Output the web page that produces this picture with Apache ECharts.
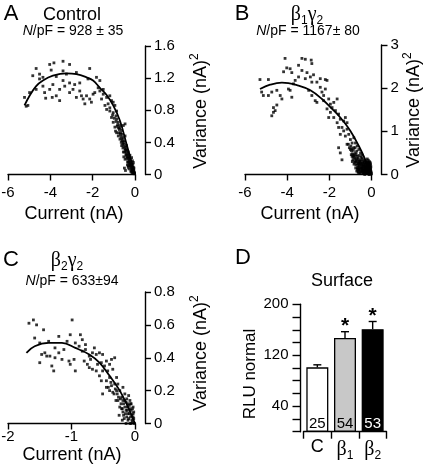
<!DOCTYPE html>
<html><head><meta charset="utf-8">
<script src="https://cdn.jsdelivr.net/npm/echarts@6/dist/echarts.min.js"></script>
<style>html,body{margin:0;padding:0;background:#fff}#c{width:434px;height:472px}</style>
</head><body><div id="c"></div>
<script>
// ---- Panel A (Control): current (nA), variance (nA)^2
const A_points = [[-4.67,1.32],[-4.83,1.23],[-4.51,1.25],[-4.35,1.21],[-4.03,1.37],[-3.83,1.39],[-3.40,1.41],[-3.96,1.30],[-3.72,1.22],[-3.40,1.29],[-3.09,1.37],[-3.24,1.25],[-2.77,1.27],[-2.61,1.14],[-2.14,1.32],[-2.22,1.19],[-1.82,1.21],[-1.66,1.17],[-1.74,1.08],[-1.90,1.02],[-2.06,0.90],[-2.29,0.98],[-2.45,0.94],[-2.61,1.04],[-2.93,1.06],[-2.85,1.12],[-3.09,1.14],[-3.32,1.10],[-3.56,1.06],[-3.88,1.12],[-4.03,1.06],[-3.72,0.98],[-3.56,0.92],[-3.91,0.96],[-4.22,0.95],[-4.27,1.02],[-4.67,1.06],[-4.98,1.02],[-5.22,0.96],[-5.06,0.86],[-5.14,0.85],[-4.51,1.19],[-4.35,1.10],[-3.40,1.17],[-3.09,1.02],[-2.77,0.96],[-2.53,0.98],[-2.37,0.88],[-2.14,0.94],[-1.98,1.00],[-1.66,1.04],[-1.50,1.06],[-1.58,0.94],[-1.50,1.00],[-1.34,0.96],[-1.19,0.98],[-1.11,0.92],[-1.27,0.88],[-1.42,0.86],[-1.34,0.81],[-1.19,0.79],[-1.03,0.77],[-0.95,0.86],[-0.90,0.73],[-1.11,0.71],[-1.03,0.65],[-0.87,0.69],[-0.79,0.65],[-0.95,0.59],[-0.71,0.61],[-0.55,0.61],[-0.87,0.52],[-0.79,0.48],[-0.71,0.44],[-0.63,0.55],[-0.47,0.63],[-0.55,0.40],[-0.47,0.48],[-0.63,0.36],[-0.47,0.32],[-0.40,0.36],[-0.55,0.28],[-0.40,0.24],[-0.32,0.28],[-0.47,0.19],[-0.32,0.15],[-0.24,0.19],[-0.24,0.11],[-0.16,0.07],[-0.08,0.09],[-0.08,0.15],[-0.32,0.09],[-0.16,0.03],[-0.05,0.01],[-0.24,0.24],[-0.16,0.21],[-1.19,0.83],[-1.03,0.90],[-0.87,0.79],[-0.82,0.62],[-0.78,0.58],[-0.74,0.56],[-0.70,0.50],[-0.66,0.47],[-0.62,0.44],[-0.60,0.42],[-0.58,0.38],[-0.52,0.35],[-0.50,0.38],[-0.45,0.30],[-0.42,0.27],[-0.38,0.30],[-0.36,0.22],[-0.33,0.20],[-0.30,0.24],[-0.28,0.17],[-0.26,0.13],[-0.22,0.15],[-0.20,0.10],[-0.18,0.13],[-0.14,0.11],[-0.12,0.06],[-0.10,0.04],[-0.06,0.05],[-0.04,0.03],[-0.02,0.01],[-0.68,0.52],[-0.56,0.46],[-0.44,0.34],[-0.34,0.26],[-0.24,0.16],[-0.16,0.12],[-0.08,0.02],[-0.12,0.17],[-0.10,0.13],[-0.05,0.08],[-0.28,0.07],[-0.20,0.04],[-0.90,0.66],[-0.98,0.70],[-1.06,0.74],[-0.92,0.54],[-0.50,0.08],[-0.45,0.05],[-0.15,0.05],[-0.18,0.08],[-0.21,0.12],[-0.26,0.20],[-0.29,0.22],[-0.31,0.11],[-0.35,0.16],[-0.39,0.20],[-0.41,0.31],[-0.43,0.24],[-0.49,0.28],[-0.52,0.42],[-0.57,0.33],[-0.61,0.50],[-0.65,0.40],[-0.72,0.58],[-0.76,0.52],[-0.84,0.60],[-0.11,0.09],[-0.07,0.06],[-0.03,0.02],[-0.13,0.02],[-0.36,0.12],[-0.53,0.22]];
const A_fit = [[-5.22,0.86],[-4.98,0.98],[-4.67,1.10],[-4.35,1.17],[-3.88,1.23],[-3.24,1.26],[-2.77,1.25],[-2.29,1.21],[-1.98,1.17],[-1.66,1.08],[-1.34,0.99],[-1.03,0.86],[-0.71,0.67],[-0.40,0.38],[0,0]];

// ---- Panel B (beta1 gamma2)
const B_points = [[-4.10,2.69],[-3.30,2.69],[-3.14,2.67],[-2.86,2.65],[-2.83,2.57],[-4.02,2.47],[-3.86,2.45],[-3.46,2.53],[-4.17,2.38],[-3.78,2.36],[-3.30,2.41],[-3.06,2.36],[-2.90,2.26],[-2.75,2.31],[-2.43,2.22],[-2.19,2.20],[-2.59,2.14],[-2.83,2.14],[-3.14,2.22],[-3.46,2.26],[-3.62,2.18],[-3.70,2.10],[-3.94,1.98],[-3.86,1.95],[-3.78,1.79],[-4.33,1.83],[-4.25,1.75],[-4.49,1.95],[-4.73,1.91],[-4.89,1.83],[-5.13,1.83],[-5.21,1.91],[-5.29,2.20],[-4.89,2.20],[-4.49,1.61],[-4.65,1.55],[-4.73,1.36],[-4.65,1.44],[-4.57,1.48],[-2.98,1.95],[-2.83,1.83],[-2.43,2.02],[-2.35,1.91],[-2.27,1.83],[-2.19,1.98],[-2.11,2.18],[-2.59,1.67],[-2.67,1.71],[-2.27,1.71],[-2.03,1.75],[-1.95,1.63],[-1.79,1.67],[-1.63,1.75],[-1.95,1.44],[-1.87,1.55],[-1.71,1.48],[-2.11,1.52],[-1.79,1.32],[-1.56,1.40],[-2.03,1.32],[-1.63,1.20],[-1.48,1.28],[-1.32,1.24],[-1.24,1.32],[-1.16,1.20],[-1.56,1.09],[-1.40,1.09],[-1.32,1.01],[-1.16,1.05],[-1.48,0.93],[-1.24,0.89],[-1.08,0.93],[-1.00,0.81],[-0.84,0.85],[-0.92,0.73],[-1.16,0.70],[-0.76,0.73],[-0.68,0.66],[-0.84,0.62],[-1.00,0.58],[-0.60,0.58],[-0.52,0.50],[-0.76,0.50],[-0.92,0.42],[-0.68,0.42],[-0.44,0.38],[-0.37,0.34],[-0.60,0.34],[-0.76,0.30],[-0.52,0.27],[-0.37,0.23],[-0.21,0.27],[-0.29,0.19],[-0.13,0.15],[-0.44,0.15],[-0.60,0.11],[-0.21,0.09],[-0.05,0.07],[-0.37,0.05],[-0.13,0.03],[-1.48,0.50],[-1.40,0.34],[-1.56,0.62],[-0.95,0.55],[-0.90,0.48],[-0.85,0.44],[-0.80,0.40],[-0.72,0.46],[-0.70,0.36],[-0.66,0.30],[-0.64,0.38],[-0.62,0.25],[-0.58,0.20],[-0.56,0.30],[-0.54,0.16],[-0.50,0.22],[-0.48,0.34],[-0.46,0.12],[-0.44,0.26],[-0.42,0.19],[-0.40,0.09],[-0.38,0.14],[-0.36,0.28],[-0.34,0.06],[-0.32,0.12],[-0.30,0.24],[-0.28,0.10],[-0.26,0.16],[-0.24,0.04],[-0.22,0.20],[-0.20,0.12],[-0.18,0.06],[-0.16,0.22],[-0.14,0.10],[-0.12,0.18],[-0.10,0.05],[-0.08,0.12],[-0.06,0.02],[-0.04,0.08],[-0.02,0.01],[-0.03,0.04],[-0.09,0.20],[-0.15,0.02],[-0.27,0.02],[-0.35,0.18],[-0.52,0.08],[-0.62,0.14],[-0.74,0.22],[-0.80,0.28],[-0.88,0.34],[-1.05,0.62],[-1.10,0.70],[-0.98,0.66],[-0.86,0.56],[-0.78,0.62],[-0.70,0.54],[-0.58,0.44],[-0.50,0.40],[-0.45,0.45],[-0.25,0.30],[-0.18,0.28],[-0.11,0.24],[-0.06,0.16],[-0.05,0.25],[-0.10,0.30],[-0.20,0.36],[-0.30,0.32],[-0.40,0.02],[-0.55,0.03],[-0.70,0.08],[-0.66,0.16],[-0.12,0.00],[-0.22,0.08],[-0.32,0.00],[-0.44,0.06],[-0.15,0.33],[-0.07,0.20],[-0.28,0.14],[-0.35,0.10],[-0.47,0.18],[-0.57,0.24],[-0.64,0.06],[-0.82,0.46],[-0.93,0.60],[-0.19,0.16],[-0.09,0.09],[-0.04,0.13],[-0.24,0.26],[-0.41,0.30],[-0.03,0.18],[-0.07,0.28],[-0.13,0.26],[-0.17,0.10],[-0.21,0.03],[-0.23,0.14],[-0.26,0.22],[-0.29,0.07],[-0.31,0.17],[-0.33,0.27],[-0.36,0.03],[-0.39,0.21],[-0.43,0.11],[-0.46,0.24],[-0.49,0.05],[-0.51,0.14],[-0.53,0.31],[-0.57,0.10],[-0.59,0.27],[-0.61,0.04],[-0.63,0.20],[-0.67,0.12],[-0.69,0.25],[-0.72,0.32],[-0.75,0.15],[-0.78,0.36],[-0.83,0.24],[-0.87,0.40],[-0.91,0.30],[-0.96,0.46],[-0.02,0.06],[-0.05,0.11],[-0.08,0.04],[-0.11,0.14],[-0.14,0.06],[-0.16,0.17],[-0.19,0.22],[-0.01,0.02],[-0.06,0.22],[-0.10,0.01]];
const B_fit = [[-5.29,1.98],[-4.81,2.08],[-4.25,2.13],[-3.46,2.06],[-2.90,1.95],[-2.35,1.75],[-1.87,1.52],[-1.48,1.32],[-1.00,1.01],[-0.60,0.66],[-0.29,0.34],[0,0]];

// ---- Panel C (beta2 gamma2)
const C_points = [[-1.60,0.63],[-1.67,0.61],[-1.55,0.60],[-1.44,0.57],[-0.99,0.63],[-1.58,0.52],[-1.50,0.49],[-1.36,0.50],[-1.20,0.53],[-1.02,0.54],[-0.86,0.54],[-0.83,0.51],[-0.94,0.49],[-1.07,0.50],[-1.12,0.45],[-1.26,0.46],[-1.42,0.43],[-1.47,0.42],[-1.39,0.41],[-1.34,0.41],[-1.50,0.37],[-1.31,0.35],[-1.28,0.32],[-1.15,0.39],[-1.04,0.38],[-0.96,0.39],[-1.02,0.36],[-0.94,0.32],[-0.83,0.44],[-0.78,0.45],[-0.72,0.41],[-0.80,0.38],[-0.75,0.36],[-0.72,0.34],[-0.67,0.43],[-0.61,0.42],[-0.56,0.43],[-0.51,0.42],[-0.53,0.37],[-0.45,0.38],[-0.48,0.35],[-0.37,0.39],[-0.32,0.40],[-0.40,0.36],[-0.61,0.32],[-0.67,0.33],[-0.56,0.29],[-0.51,0.32],[-0.43,0.32],[-0.35,0.33],[-0.29,0.28],[-0.40,0.28],[-0.45,0.26],[-0.53,0.26],[-0.37,0.23],[-0.32,0.24],[-0.27,0.24],[-0.24,0.20],[-0.29,0.20],[-0.19,0.22],[-0.16,0.18],[-0.21,0.16],[-0.35,0.19],[-0.40,0.20],[-0.27,0.14],[-0.19,0.14],[-0.13,0.15],[-0.11,0.12],[-0.16,0.10],[-0.08,0.09],[-0.11,0.06],[-0.05,0.05],[-0.03,0.06],[-0.05,0.02],[-0.13,0.04],[-0.19,0.07],[-0.24,0.10],[-0.08,0.14],[-1.20,0.43],[-1.26,0.40],[-0.88,0.47],[-0.78,0.48],[-0.64,0.46],[-0.70,0.39],[-0.59,0.36],[-0.45,0.22],[-0.51,0.18],[-0.22,0.12],[-0.20,0.09],[-0.18,0.12],[-0.15,0.06],[-0.14,0.13],[-0.12,0.08],[-0.10,0.03],[-0.09,0.11],[-0.07,0.04],[-0.06,0.08],[-0.04,0.01],[-0.02,0.03],[-0.01,0.00],[-0.17,0.03],[-0.10,0.17],[-0.06,0.12],[-0.03,0.10],[-0.26,0.16],[-0.30,0.14],[-0.33,0.18],[-0.38,0.25],[-0.42,0.22],[-0.25,0.05],[-0.14,0.00],[-0.08,0.00],[-0.20,0.02],[-0.02,0.07],[-0.04,0.09],[-0.07,0.12],[-0.09,0.06],[-0.12,0.10],[-0.14,0.08],[-0.16,0.14],[-0.18,0.05],[-0.21,0.09],[-0.23,0.15],[-0.11,0.02],[-0.06,0.00],[-0.03,0.04],[-0.28,0.18],[-0.31,0.21]];
const C_fit = [[-1.71,0.43],[-1.58,0.47],[-1.36,0.49],[-1.15,0.49],[-0.94,0.46],[-0.72,0.42],[-0.56,0.37],[-0.40,0.29],[-0.24,0.20],[-0.11,0.10],[0,0]];

// ---- Panel D (Surface expression)
const D_categories = ['C', 'β1', 'β2'];
const D_means = [101, 147, 161];
const D_errors = [4, 10, 12];
const D_counts = [25, 54, 53];
const D_significant = [false, true, true];
const D_labelTicks = [40, 120, 200];

const F = '"Liberation Sans", Arial, Helvetica, sans-serif';
const FS = '"Liberation Serif", "Times New Roman", serif';
const barFills = ['#ffffff', '#c8c8c8', '#000000'];
const countColors = ['#000000', '#000000', '#ffffff'];

const axLine = {show: true, onZero: false, lineStyle: {color: '#000', width: 1.4}};
const axTick = {show: true, length: 6, lineStyle: {color: '#000', width: 1.4}};

function xVal(gi, min, max, interval, margin) {
  return {type: 'value', gridIndex: gi, min, max, interval,
    axisLine: axLine, axisTick: axTick, splitLine: {show: false},
    axisLabel: {color: '#000', fontSize: 15, fontFamily: F, margin}};
}
function yVal(gi, min, max, interval) {
  return {type: 'value', gridIndex: gi, min, max, interval, position: 'right', offset: 10,
    axisLine: axLine, axisTick: axTick, splitLine: {show: false},
    axisLabel: {color: '#000', fontSize: 15, fontFamily: F, margin: 9}};
}
function scat(gi, data) {
  return {type: 'scatter', xAxisIndex: gi, yAxisIndex: gi, data, symbol: 'rect', symbolSize: 2.8,
    itemStyle: {color: '#000'}, silent: true, z: 2};
}
function fit(gi, data) {
  return {type: 'line', xAxisIndex: gi, yAxisIndex: gi, data, smooth: 0.4, showSymbol: false,
    lineStyle: {color: '#000', width: 1.8}, silent: true, z: 3};
}
function txt(x, y, text, size, extra) {
  return {type: 'text', x, y, silent: true,
    style: Object.assign({text, fontSize: size, fontFamily: F, fill: '#000', align: 'center', verticalAlign: 'middle'}, extra || {})};
}
const npfRich = {i: {fontStyle: 'italic', fontSize: 14, fontFamily: F, fill: '#000'}};
const greekRich = {
  g: {fontFamily: FS, fontSize: 20, fill: '#000', lineHeight: 24},
  s: {fontFamily: F, fontSize: 12, fill: '#000', lineHeight: 12, verticalAlign: 'bottom'}
};
const supRich = {
  sup: {fontFamily: F, fontSize: 12, fill: '#000', lineHeight: 12, verticalAlign: 'top'}
};
function rot(x, y, text, size, extra) {
  const t = txt(x, y, text, size, extra);
  t.rotation = Math.PI / 2;
  return t;
}
function varTitle(x, y) {
  return rot(x, y, 'Variance (nA){sup|2}', 18, {rich: supRich, lineHeight: 24});
}

const chart = echarts.init(document.getElementById('c'), null, {renderer: 'canvas'});
chart.setOption({
  animation: false,
  backgroundColor: '#fff',
  grid: [
    {left: 8, top: 46, width: 127, height: 128.5, outerBoundsMode: 'none'},
    {left: 245, top: 45, width: 126.5, height: 129.5, outerBoundsMode: 'none'},
    {left: 8, top: 292, width: 127, height: 131.5, outerBoundsMode: 'none'},
    {left: 303.5, top: 304.3, width: 83, height: 127.4, outerBoundsMode: 'none'}
  ],
  xAxis: [
    xVal(0, -6, 0, 2, 11),
    xVal(1, -6, 0, 2, 11),
    xVal(2, -2, 0, 1, 6),
    {type: 'category', gridIndex: 3, data: D_categories,
      axisLine: {show: true, lineStyle: {color: '#000', width: 1.4}},
      axisTick: {show: true, length: 7, lineStyle: {color: '#000', width: 1.4}},
      axisLabel: {color: '#000', margin: 6, fontSize: 18, fontFamily: F, interval: 0, hideOverlap: false,
        formatter: v => v.length > 1 ? '{g|' + v[0] + '}{s|' + v.slice(1) + '}' : v,
        rich: greekRich}}
  ],
  yAxis: [
    yVal(0, 0, 1.6, 0.4),
    yVal(1, 0, 3, 1),
    yVal(2, 0, 0.8, 0.2),
    {type: 'value', gridIndex: 3, min: 0, max: 200, interval: 20, offset: 3,
      axisLine: {show: true, lineStyle: {color: '#000', width: 1.4}},
      axisTick: {show: true, length: 8, lineStyle: {color: '#000', width: 1.4}},
      splitLine: {show: false},
      axisLabel: {color: '#000', fontSize: 15, fontFamily: F, margin: 12,
        formatter: v => D_labelTicks.includes(v) ? String(v) : ''}}
  ],
  series: [
    scat(0, A_points), fit(0, A_fit),
    scat(1, B_points), fit(1, B_fit),
    scat(2, C_points), fit(2, C_fit),
    {type: 'bar', xAxisIndex: 3, yAxisIndex: 3, barWidth: 22, silent: true,
      data: D_means.map((v, i) => ({value: v, itemStyle: {color: barFills[i], borderColor: '#000', borderWidth: 1.3},
        label: {color: countColors[i]}})),
      label: {show: true, position: 'insideBottom', distance: 0, fontSize: 15, fontFamily: F,
        formatter: p => String(D_counts[p.dataIndex])}},
    {type: 'custom', xAxisIndex: 3, yAxisIndex: 3, silent: true, z: 5,
      data: D_means.map((v, i) => [i, v, D_errors[i]]),
      encode: {x: 0, y: 1},
      renderItem: function (params, api) {
        const i = api.value(0), m = api.value(1), e = api.value(2);
        const p0 = api.coord([i, m]);
        const p1 = api.coord([i, m + e]);
        const half = 4;
        const kids = [
          {type: 'line', shape: {x1: p0[0], y1: p0[1], x2: p1[0], y2: p1[1]}, style: {stroke: '#000', lineWidth: 1.4}},
          {type: 'line', shape: {x1: p1[0] - half, y1: p1[1], x2: p1[0] + half, y2: p1[1]}, style: {stroke: '#000', lineWidth: 1.4}}
        ];
        if (D_significant[i]) {
          kids.push({type: 'text', x: p1[0], y: p1[1] + 5,
            style: {text: '*', fontSize: 21, fontFamily: F, fontWeight: 'bold', fill: '#000', align: 'center', verticalAlign: 'bottom'}});
        }
        return {type: 'group', children: kids};
      }}
  ],
  graphic: [
    txt(11, 14, 'A', 22),
    txt(72, 15, 'Control', 18),
    txt(73, 31, '{i|N}/pF = 928 ± 35', 14, {rich: npfRich}),
    txt(74, 214, 'Current (nA)', 18),
    varTitle(201, 111),

    txt(242, 14, 'B', 22),
    txt(307, 15, '{g|β}{s|1}{g|γ}{s|2}', 18, {rich: greekRich}),
    txt(308, 31, '{i|N}/pF = 1167± 80', 14, {rich: npfRich}),
    txt(310, 214, 'Current (nA)', 18),
    varTitle(414, 110),

    txt(11, 260, 'C', 22),
    txt(67, 261, '{g|β}{s|2}{g|γ}{s|2}', 18, {rich: greekRich}),
    txt(72, 281, '{i|N}/pF = 633±94', 14, {rich: npfRich}),
    txt(72, 455, 'Current (nA)', 18),
    varTitle(201, 353),

    txt(243, 258, 'D', 22),
    txt(342, 281, 'Surface', 18),
    rot(250, 374, 'RLU normal', 17)
  ]
});
</script>
</body></html>
